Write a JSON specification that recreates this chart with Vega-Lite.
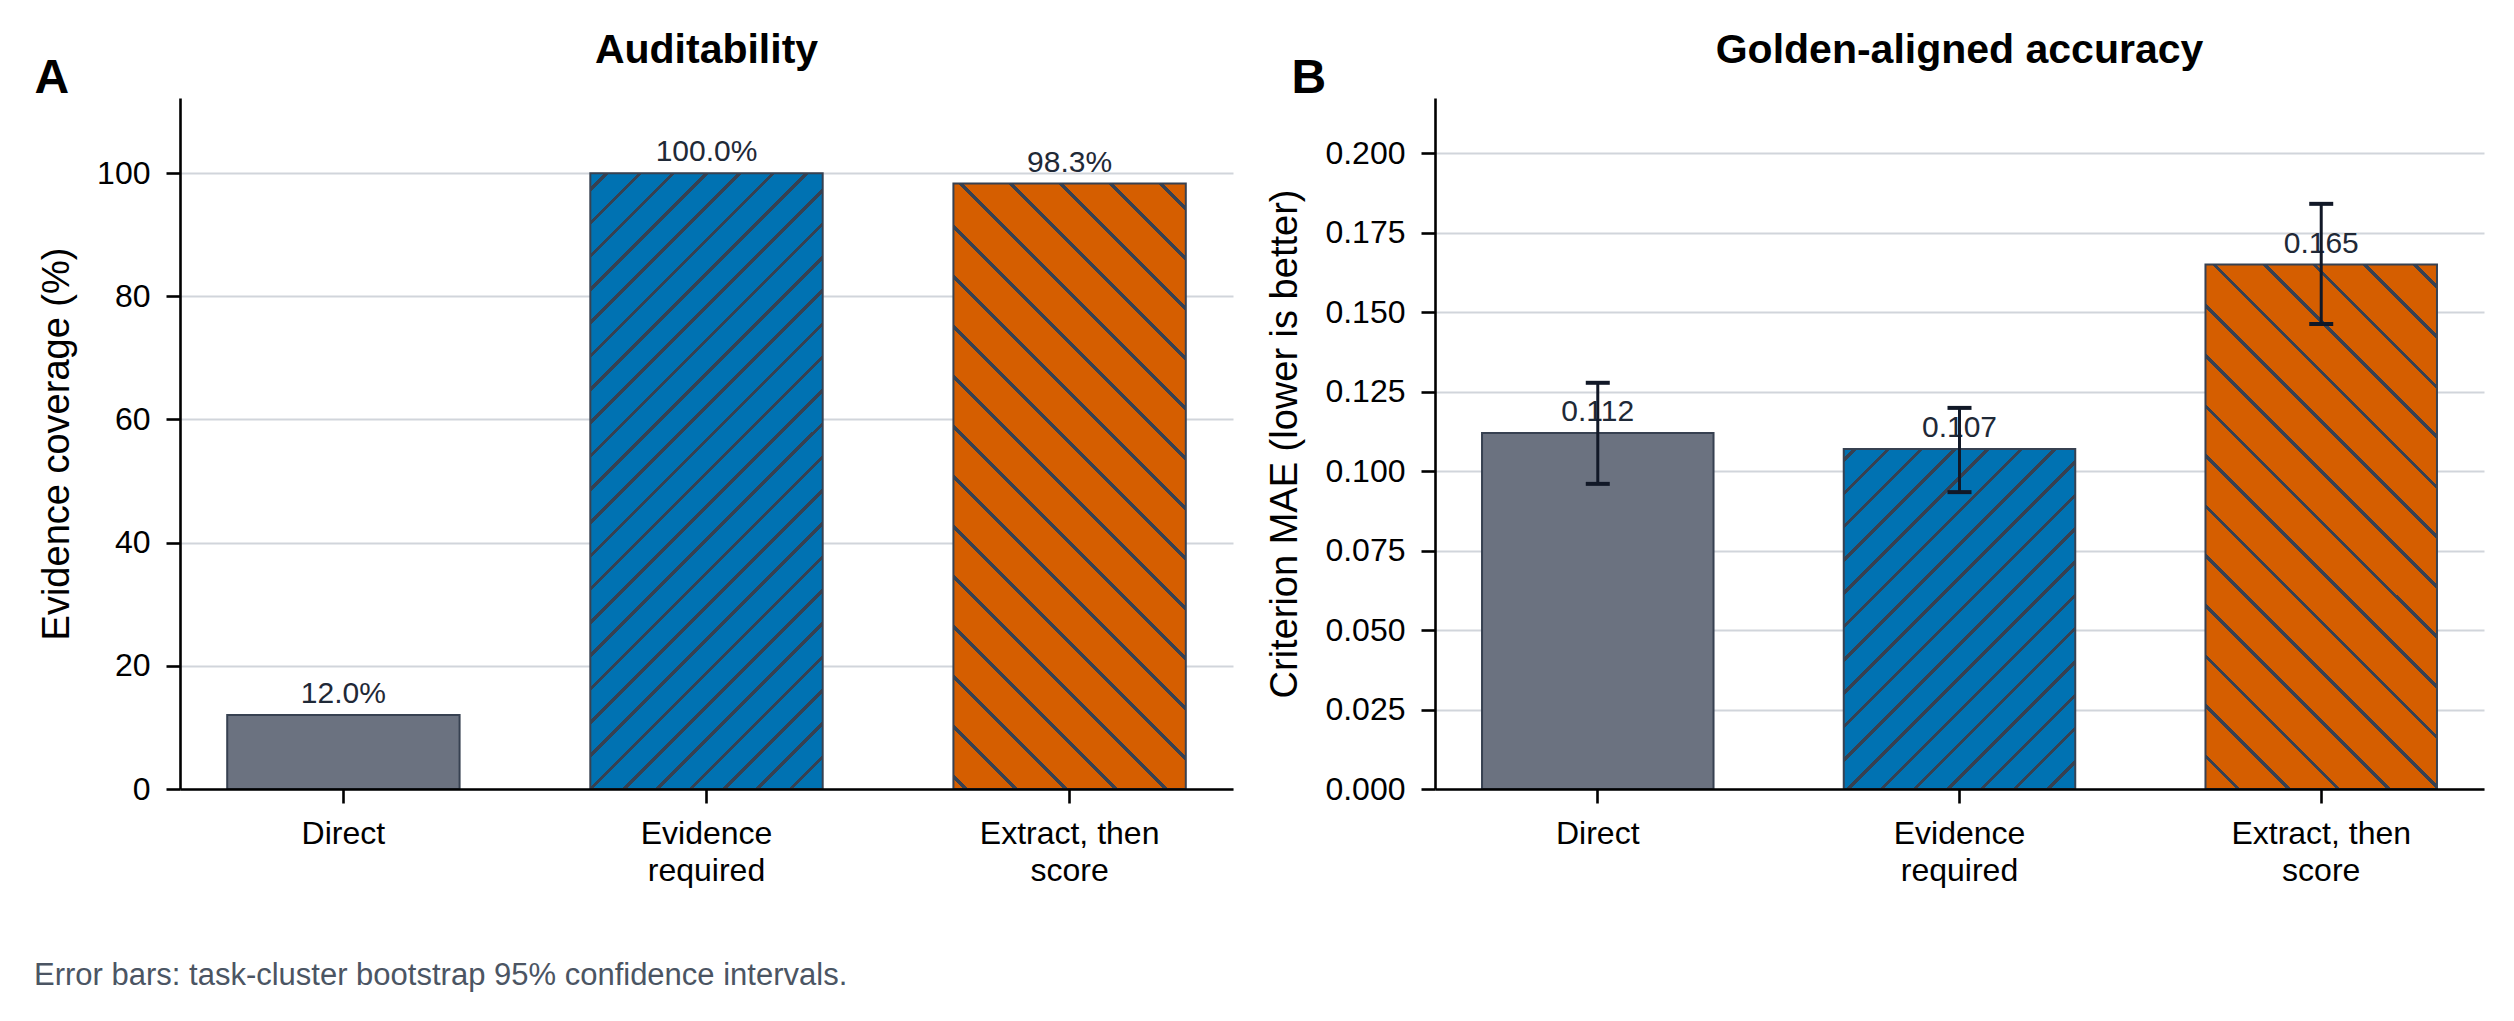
{
  "$schema": "https://vega.github.io/schema/vega-lite/v6.json",
  "background": "white",
  "padding": {"left": 34, "top": 30, "right": 20, "bottom": 10},
  "datasets": {
    "auditability": [
      {"method": "Direct", "coverage": 12.0, "label": "12.0%"},
      {"method": "Evidence required", "coverage": 100.0, "label": "100.0%"},
      {"method": "Extract, then score", "coverage": 98.3, "label": "98.3%"}
    ],
    "accuracy": [
      {"method": "Direct", "mae": 0.112, "lo": 0.096, "hi": 0.1278, "label": "0.112"},
      {"method": "Evidence required", "mae": 0.107, "lo": 0.0934, "hi": 0.1199, "label": "0.107"},
      {"method": "Extract, then score", "mae": 0.165, "lo": 0.1463, "hi": 0.1841, "label": "0.165"}
    ]
  },
  "title": {
    "text": "Error bars: task-cluster bootstrap 95% confidence intervals.",
    "orient": "bottom",
    "anchor": "start",
    "fontSize": 31,
    "fontWeight": "normal",
    "color": "#4b5563",
    "offset": 75
  },
  "spacing": 33,
  "hconcat": [
    {
      "width": 1053,
      "height": 691,
      "data": {"name": "auditability"},
      "title": {"text": "Auditability", "fontSize": 41, "fontWeight": "bold", "color": "black", "anchor": "middle", "frame": "group", "baseline": "alphabetic", "offset": -50},
      "resolve": {"axis": {"x": "independent", "y": "independent"}},
      "layer": [
        {
          "transform": [{"filter": "datum.method == 'Direct'"}],
          "mark": {"type": "bar", "fill": "#6b7280", "stroke": "#374151", "strokeWidth": 2},
          "encoding": {
            "x": {
              "field": "method", "type": "nominal", "sort": null,
              "scale": {"domain": ["Direct", "Evidence required", "Extract, then score"], "paddingInner": 0.36, "paddingOuter": 0.13},
              "axis": {
                "title": null, "labelAngle": 0, "labelFontSize": 32, "labelColor": "black", "labelPadding": 15, "labelLineHeight": 37,
                "labelExpr": "datum.label == 'Evidence required' ? ['Evidence', 'required'] : datum.label == 'Extract, then score' ? ['Extract, then', 'score'] : datum.label",
                "tickSize": 14, "tickWidth": 2.6, "tickColor": "black", "domainColor": "black", "domainWidth": 2.6, "zindex": 1
              }
            },
            "y": {
              "field": "coverage", "type": "quantitative",
              "scale": {"domain": [0, 112.2], "nice": false},
              "axis": {
                "title": "Evidence coverage (%)", "titleFontSize": 38, "titleFontWeight": "normal", "titleColor": "black", "titlePadding": 20,
                "values": [0, 20, 40, 60, 80, 100], "labelFontSize": 32, "labelColor": "black", "labelPadding": 16,
                "tickSize": 14, "tickWidth": 2.6, "tickColor": "black", "domainColor": "black", "domainWidth": 2.6,
                "grid": true, "gridColor": "#d1d5db", "gridWidth": 2
              }
            }
          }
        },
        {
          "transform": [{"filter": "datum.method == 'Evidence required'"}],
          "mark": {
            "type": "bar", "stroke": "#374151", "strokeWidth": 2,
            "fill": {
              "gradient": "linear", "x1": 0, "y1": 0, "x2": 0.4549, "y2": 1.2057,
              "stops": [
                {"offset": 0, "color": "#0072b2"},
                {"offset": 0.0169, "color": "#0072b2"}, {"offset": 0.0169, "color": "#374151"}, {"offset": 0.0223, "color": "#374151"}, {"offset": 0.0223, "color": "#0072b2"},
                {"offset": 0.0562, "color": "#0072b2"}, {"offset": 0.0562, "color": "#374151"}, {"offset": 0.0616, "color": "#374151"}, {"offset": 0.0616, "color": "#0072b2"},
                {"offset": 0.0954, "color": "#0072b2"}, {"offset": 0.0954, "color": "#374151"}, {"offset": 0.1008, "color": "#374151"}, {"offset": 0.1008, "color": "#0072b2"},
                {"offset": 0.1347, "color": "#0072b2"}, {"offset": 0.1347, "color": "#374151"}, {"offset": 0.1401, "color": "#374151"}, {"offset": 0.1401, "color": "#0072b2"},
                {"offset": 0.1739, "color": "#0072b2"}, {"offset": 0.1739, "color": "#374151"}, {"offset": 0.1793, "color": "#374151"}, {"offset": 0.1793, "color": "#0072b2"},
                {"offset": 0.2132, "color": "#0072b2"}, {"offset": 0.2132, "color": "#374151"}, {"offset": 0.2186, "color": "#374151"}, {"offset": 0.2186, "color": "#0072b2"},
                {"offset": 0.2525, "color": "#0072b2"}, {"offset": 0.2525, "color": "#374151"}, {"offset": 0.2579, "color": "#374151"}, {"offset": 0.2579, "color": "#0072b2"},
                {"offset": 0.2917, "color": "#0072b2"}, {"offset": 0.2917, "color": "#374151"}, {"offset": 0.2971, "color": "#374151"}, {"offset": 0.2971, "color": "#0072b2"},
                {"offset": 0.3310, "color": "#0072b2"}, {"offset": 0.3310, "color": "#374151"}, {"offset": 0.3364, "color": "#374151"}, {"offset": 0.3364, "color": "#0072b2"},
                {"offset": 0.3702, "color": "#0072b2"}, {"offset": 0.3702, "color": "#374151"}, {"offset": 0.3756, "color": "#374151"}, {"offset": 0.3756, "color": "#0072b2"},
                {"offset": 0.4095, "color": "#0072b2"}, {"offset": 0.4095, "color": "#374151"}, {"offset": 0.4149, "color": "#374151"}, {"offset": 0.4149, "color": "#0072b2"},
                {"offset": 0.4488, "color": "#0072b2"}, {"offset": 0.4488, "color": "#374151"}, {"offset": 0.4542, "color": "#374151"}, {"offset": 0.4542, "color": "#0072b2"},
                {"offset": 0.4880, "color": "#0072b2"}, {"offset": 0.4880, "color": "#374151"}, {"offset": 0.4934, "color": "#374151"}, {"offset": 0.4934, "color": "#0072b2"},
                {"offset": 0.5273, "color": "#0072b2"}, {"offset": 0.5273, "color": "#374151"}, {"offset": 0.5327, "color": "#374151"}, {"offset": 0.5327, "color": "#0072b2"},
                {"offset": 0.5665, "color": "#0072b2"}, {"offset": 0.5665, "color": "#374151"}, {"offset": 0.5719, "color": "#374151"}, {"offset": 0.5719, "color": "#0072b2"},
                {"offset": 0.6058, "color": "#0072b2"}, {"offset": 0.6058, "color": "#374151"}, {"offset": 0.6112, "color": "#374151"}, {"offset": 0.6112, "color": "#0072b2"},
                {"offset": 0.6451, "color": "#0072b2"}, {"offset": 0.6451, "color": "#374151"}, {"offset": 0.6505, "color": "#374151"}, {"offset": 0.6505, "color": "#0072b2"},
                {"offset": 0.6843, "color": "#0072b2"}, {"offset": 0.6843, "color": "#374151"}, {"offset": 0.6897, "color": "#374151"}, {"offset": 0.6897, "color": "#0072b2"},
                {"offset": 0.7236, "color": "#0072b2"}, {"offset": 0.7236, "color": "#374151"}, {"offset": 0.7290, "color": "#374151"}, {"offset": 0.7290, "color": "#0072b2"},
                {"offset": 0.7628, "color": "#0072b2"}, {"offset": 0.7628, "color": "#374151"}, {"offset": 0.7682, "color": "#374151"}, {"offset": 0.7682, "color": "#0072b2"},
                {"offset": 0.8021, "color": "#0072b2"}, {"offset": 0.8021, "color": "#374151"}, {"offset": 0.8075, "color": "#374151"}, {"offset": 0.8075, "color": "#0072b2"},
                {"offset": 0.8414, "color": "#0072b2"}, {"offset": 0.8414, "color": "#374151"}, {"offset": 0.8468, "color": "#374151"}, {"offset": 0.8468, "color": "#0072b2"},
                {"offset": 0.8806, "color": "#0072b2"}, {"offset": 0.8806, "color": "#374151"}, {"offset": 0.8860, "color": "#374151"}, {"offset": 0.8860, "color": "#0072b2"},
                {"offset": 0.9199, "color": "#0072b2"}, {"offset": 0.9199, "color": "#374151"}, {"offset": 0.9253, "color": "#374151"}, {"offset": 0.9253, "color": "#0072b2"},
                {"offset": 0.9591, "color": "#0072b2"}, {"offset": 0.9591, "color": "#374151"}, {"offset": 0.9645, "color": "#374151"}, {"offset": 0.9645, "color": "#0072b2"},
                {"offset": 1, "color": "#0072b2"}
              ]
            }
          },
          "encoding": {
            "x": {"field": "method", "type": "nominal", "sort": null, "scale": {"domain": ["Direct", "Evidence required", "Extract, then score"], "paddingInner": 0.36, "paddingOuter": 0.13}, "axis": null},
            "y": {"field": "coverage", "type": "quantitative", "scale": {"domain": [0, 112.2], "nice": false}, "axis": null}
          }
        },
        {
          "transform": [{"filter": "datum.method == 'Extract, then score'"}],
          "mark": {
            "type": "bar", "stroke": "#374151", "strokeWidth": 2,
            "fill": {
              "gradient": "linear", "x1": 1, "y1": 0, "x2": 0.5370, "y2": 1.2061,
              "stops": [
                {"offset": 0, "color": "#d55e00"},
                {"offset": 0.0273, "color": "#d55e00"}, {"offset": 0.0273, "color": "#374151"}, {"offset": 0.0327, "color": "#374151"}, {"offset": 0.0327, "color": "#d55e00"},
                {"offset": 0.0870, "color": "#d55e00"}, {"offset": 0.0870, "color": "#374151"}, {"offset": 0.0924, "color": "#374151"}, {"offset": 0.0924, "color": "#d55e00"},
                {"offset": 0.1467, "color": "#d55e00"}, {"offset": 0.1467, "color": "#374151"}, {"offset": 0.1521, "color": "#374151"}, {"offset": 0.1521, "color": "#d55e00"},
                {"offset": 0.2063, "color": "#d55e00"}, {"offset": 0.2063, "color": "#374151"}, {"offset": 0.2117, "color": "#374151"}, {"offset": 0.2117, "color": "#d55e00"},
                {"offset": 0.2660, "color": "#d55e00"}, {"offset": 0.2660, "color": "#374151"}, {"offset": 0.2714, "color": "#374151"}, {"offset": 0.2714, "color": "#d55e00"},
                {"offset": 0.3257, "color": "#d55e00"}, {"offset": 0.3257, "color": "#374151"}, {"offset": 0.3311, "color": "#374151"}, {"offset": 0.3311, "color": "#d55e00"},
                {"offset": 0.3854, "color": "#d55e00"}, {"offset": 0.3854, "color": "#374151"}, {"offset": 0.3908, "color": "#374151"}, {"offset": 0.3908, "color": "#d55e00"},
                {"offset": 0.4451, "color": "#d55e00"}, {"offset": 0.4451, "color": "#374151"}, {"offset": 0.4505, "color": "#374151"}, {"offset": 0.4505, "color": "#d55e00"},
                {"offset": 0.5047, "color": "#d55e00"}, {"offset": 0.5047, "color": "#374151"}, {"offset": 0.5101, "color": "#374151"}, {"offset": 0.5101, "color": "#d55e00"},
                {"offset": 0.5644, "color": "#d55e00"}, {"offset": 0.5644, "color": "#374151"}, {"offset": 0.5698, "color": "#374151"}, {"offset": 0.5698, "color": "#d55e00"},
                {"offset": 0.6241, "color": "#d55e00"}, {"offset": 0.6241, "color": "#374151"}, {"offset": 0.6295, "color": "#374151"}, {"offset": 0.6295, "color": "#d55e00"},
                {"offset": 0.6838, "color": "#d55e00"}, {"offset": 0.6838, "color": "#374151"}, {"offset": 0.6892, "color": "#374151"}, {"offset": 0.6892, "color": "#d55e00"},
                {"offset": 0.7435, "color": "#d55e00"}, {"offset": 0.7435, "color": "#374151"}, {"offset": 0.7489, "color": "#374151"}, {"offset": 0.7489, "color": "#d55e00"},
                {"offset": 0.8031, "color": "#d55e00"}, {"offset": 0.8031, "color": "#374151"}, {"offset": 0.8085, "color": "#374151"}, {"offset": 0.8085, "color": "#d55e00"},
                {"offset": 0.8628, "color": "#d55e00"}, {"offset": 0.8628, "color": "#374151"}, {"offset": 0.8682, "color": "#374151"}, {"offset": 0.8682, "color": "#d55e00"},
                {"offset": 0.9225, "color": "#d55e00"}, {"offset": 0.9225, "color": "#374151"}, {"offset": 0.9279, "color": "#374151"}, {"offset": 0.9279, "color": "#d55e00"},
                {"offset": 0.9822, "color": "#d55e00"}, {"offset": 0.9822, "color": "#374151"}, {"offset": 0.9876, "color": "#374151"}, {"offset": 0.9876, "color": "#d55e00"},
                {"offset": 1, "color": "#d55e00"}
              ]
            }
          },
          "encoding": {
            "x": {"field": "method", "type": "nominal", "sort": null, "scale": {"domain": ["Direct", "Evidence required", "Extract, then score"], "paddingInner": 0.36, "paddingOuter": 0.13}, "axis": null},
            "y": {"field": "coverage", "type": "quantitative", "scale": {"domain": [0, 112.2], "nice": false}, "axis": null}
          }
        },
        {
          "mark": {"type": "text", "baseline": "alphabetic", "dy": -12, "fontSize": 30, "color": "#1f2937"},
          "encoding": {
            "x": {
              "field": "method", "type": "nominal", "sort": null,
              "scale": {"domain": ["Direct", "Evidence required", "Extract, then score"], "paddingInner": 0.36, "paddingOuter": 0.13},
              "axis": {
                "orient": "top", "labels": false, "ticks": false, "domain": false, "grid": false,
                "title": "A", "titleFontSize": 48, "titleFontWeight": "bold", "titleColor": "black", "titleAngle": 0,
                "titleAlign": "left", "titleBaseline": "alphabetic", "titleX": -146, "titleY": -6
              }
            },
            "y": {"field": "coverage", "type": "quantitative", "scale": {"domain": [0, 112.2], "nice": false}, "axis": null},
            "text": {"field": "label"}
          }
        }
      ]
    },
    {
      "width": 1049,
      "height": 691,
      "data": {"name": "accuracy"},
      "title": {"text": "Golden-aligned accuracy", "fontSize": 41, "fontWeight": "bold", "color": "black", "anchor": "middle", "frame": "group", "baseline": "alphabetic", "offset": -50},
      "resolve": {"axis": {"x": "independent", "y": "independent"}},
      "layer": [
        {
          "transform": [{"filter": "datum.method == 'Direct'"}],
          "mark": {"type": "bar", "fill": "#6b7280", "stroke": "#374151", "strokeWidth": 2},
          "encoding": {
            "x": {
              "field": "method", "type": "nominal", "sort": null,
              "scale": {"domain": ["Direct", "Evidence required", "Extract, then score"], "paddingInner": 0.36, "paddingOuter": 0.13},
              "axis": {
                "title": null, "labelAngle": 0, "labelFontSize": 32, "labelColor": "black", "labelPadding": 15, "labelLineHeight": 37,
                "labelExpr": "datum.label == 'Evidence required' ? ['Evidence', 'required'] : datum.label == 'Extract, then score' ? ['Extract, then', 'score'] : datum.label",
                "tickSize": 14, "tickWidth": 2.6, "tickColor": "black", "domainColor": "black", "domainWidth": 2.6, "zindex": 1
              }
            },
            "y": {
              "field": "mae", "type": "quantitative",
              "scale": {"domain": [0, 0.2174], "nice": false},
              "axis": {
                "title": "Criterion MAE (lower is better)", "titleFontSize": 38, "titleFontWeight": "normal", "titleColor": "black", "titlePadding": 20,
                "values": [0, 0.025, 0.05, 0.075, 0.1, 0.125, 0.15, 0.175, 0.2], "format": ".3f",
                "labelFontSize": 32, "labelColor": "black", "labelPadding": 16,
                "tickSize": 14, "tickWidth": 2.6, "tickColor": "black", "domainColor": "black", "domainWidth": 2.6,
                "grid": true, "gridColor": "#d1d5db", "gridWidth": 2
              }
            }
          }
        },
        {
          "transform": [{"filter": "datum.method == 'Evidence required'"}],
          "mark": {
            "type": "bar", "stroke": "#374151", "strokeWidth": 2,
            "fill": {
              "gradient": "linear", "x1": 0, "y1": 0, "x2": 0.7818, "y2": 1.1486,
              "stops": [
                {"offset": 0, "color": "#0072b2"},
                {"offset": 0.0160, "color": "#0072b2"}, {"offset": 0.0160, "color": "#374151"}, {"offset": 0.0240, "color": "#374151"}, {"offset": 0.0240, "color": "#0072b2"},
                {"offset": 0.0743, "color": "#0072b2"}, {"offset": 0.0743, "color": "#374151"}, {"offset": 0.0823, "color": "#374151"}, {"offset": 0.0823, "color": "#0072b2"},
                {"offset": 0.1325, "color": "#0072b2"}, {"offset": 0.1325, "color": "#374151"}, {"offset": 0.1405, "color": "#374151"}, {"offset": 0.1405, "color": "#0072b2"},
                {"offset": 0.1908, "color": "#0072b2"}, {"offset": 0.1908, "color": "#374151"}, {"offset": 0.1988, "color": "#374151"}, {"offset": 0.1988, "color": "#0072b2"},
                {"offset": 0.2490, "color": "#0072b2"}, {"offset": 0.2490, "color": "#374151"}, {"offset": 0.2570, "color": "#374151"}, {"offset": 0.2570, "color": "#0072b2"},
                {"offset": 0.3073, "color": "#0072b2"}, {"offset": 0.3073, "color": "#374151"}, {"offset": 0.3153, "color": "#374151"}, {"offset": 0.3153, "color": "#0072b2"},
                {"offset": 0.3656, "color": "#0072b2"}, {"offset": 0.3656, "color": "#374151"}, {"offset": 0.3736, "color": "#374151"}, {"offset": 0.3736, "color": "#0072b2"},
                {"offset": 0.4238, "color": "#0072b2"}, {"offset": 0.4238, "color": "#374151"}, {"offset": 0.4318, "color": "#374151"}, {"offset": 0.4318, "color": "#0072b2"},
                {"offset": 0.4821, "color": "#0072b2"}, {"offset": 0.4821, "color": "#374151"}, {"offset": 0.4901, "color": "#374151"}, {"offset": 0.4901, "color": "#0072b2"},
                {"offset": 0.5403, "color": "#0072b2"}, {"offset": 0.5403, "color": "#374151"}, {"offset": 0.5483, "color": "#374151"}, {"offset": 0.5483, "color": "#0072b2"},
                {"offset": 0.5986, "color": "#0072b2"}, {"offset": 0.5986, "color": "#374151"}, {"offset": 0.6066, "color": "#374151"}, {"offset": 0.6066, "color": "#0072b2"},
                {"offset": 0.6569, "color": "#0072b2"}, {"offset": 0.6569, "color": "#374151"}, {"offset": 0.6649, "color": "#374151"}, {"offset": 0.6649, "color": "#0072b2"},
                {"offset": 0.7151, "color": "#0072b2"}, {"offset": 0.7151, "color": "#374151"}, {"offset": 0.7231, "color": "#374151"}, {"offset": 0.7231, "color": "#0072b2"},
                {"offset": 0.7734, "color": "#0072b2"}, {"offset": 0.7734, "color": "#374151"}, {"offset": 0.7814, "color": "#374151"}, {"offset": 0.7814, "color": "#0072b2"},
                {"offset": 0.8316, "color": "#0072b2"}, {"offset": 0.8316, "color": "#374151"}, {"offset": 0.8396, "color": "#374151"}, {"offset": 0.8396, "color": "#0072b2"},
                {"offset": 0.8899, "color": "#0072b2"}, {"offset": 0.8899, "color": "#374151"}, {"offset": 0.8979, "color": "#374151"}, {"offset": 0.8979, "color": "#0072b2"},
                {"offset": 0.9482, "color": "#0072b2"}, {"offset": 0.9482, "color": "#374151"}, {"offset": 0.9562, "color": "#374151"}, {"offset": 0.9562, "color": "#0072b2"},
                {"offset": 1, "color": "#0072b2"}
              ]
            }
          },
          "encoding": {
            "x": {"field": "method", "type": "nominal", "sort": null, "scale": {"domain": ["Direct", "Evidence required", "Extract, then score"], "paddingInner": 0.36, "paddingOuter": 0.13}, "axis": null},
            "y": {"field": "mae", "type": "quantitative", "scale": {"domain": [0, 0.2174], "nice": false}, "axis": null}
          }
        },
        {
          "transform": [{"filter": "datum.method == 'Extract, then score'"}],
          "mark": {
            "type": "bar", "stroke": "#374151", "strokeWidth": 2,
            "fill": {
              "gradient": "linear", "x1": 1, "y1": 0, "x2": 0.4675, "y2": 1.2064,
              "stops": [
                {"offset": 0, "color": "#d55e00"},
                {"offset": 0.0270, "color": "#d55e00"}, {"offset": 0.0270, "color": "#374151"}, {"offset": 0.0330, "color": "#374151"}, {"offset": 0.0330, "color": "#d55e00"},
                {"offset": 0.0931, "color": "#d55e00"}, {"offset": 0.0931, "color": "#374151"}, {"offset": 0.0991, "color": "#374151"}, {"offset": 0.0991, "color": "#d55e00"},
                {"offset": 0.1593, "color": "#d55e00"}, {"offset": 0.1593, "color": "#374151"}, {"offset": 0.1653, "color": "#374151"}, {"offset": 0.1653, "color": "#d55e00"},
                {"offset": 0.2254, "color": "#d55e00"}, {"offset": 0.2254, "color": "#374151"}, {"offset": 0.2314, "color": "#374151"}, {"offset": 0.2314, "color": "#d55e00"},
                {"offset": 0.2916, "color": "#d55e00"}, {"offset": 0.2916, "color": "#374151"}, {"offset": 0.2976, "color": "#374151"}, {"offset": 0.2976, "color": "#d55e00"},
                {"offset": 0.3577, "color": "#d55e00"}, {"offset": 0.3577, "color": "#374151"}, {"offset": 0.3637, "color": "#374151"}, {"offset": 0.3637, "color": "#d55e00"},
                {"offset": 0.4238, "color": "#d55e00"}, {"offset": 0.4238, "color": "#374151"}, {"offset": 0.4298, "color": "#374151"}, {"offset": 0.4298, "color": "#d55e00"},
                {"offset": 0.4900, "color": "#d55e00"}, {"offset": 0.4900, "color": "#374151"}, {"offset": 0.4960, "color": "#374151"}, {"offset": 0.4960, "color": "#d55e00"},
                {"offset": 0.5561, "color": "#d55e00"}, {"offset": 0.5561, "color": "#374151"}, {"offset": 0.5621, "color": "#374151"}, {"offset": 0.5621, "color": "#d55e00"},
                {"offset": 0.6223, "color": "#d55e00"}, {"offset": 0.6223, "color": "#374151"}, {"offset": 0.6283, "color": "#374151"}, {"offset": 0.6283, "color": "#d55e00"},
                {"offset": 0.6884, "color": "#d55e00"}, {"offset": 0.6884, "color": "#374151"}, {"offset": 0.6944, "color": "#374151"}, {"offset": 0.6944, "color": "#d55e00"},
                {"offset": 0.7545, "color": "#d55e00"}, {"offset": 0.7545, "color": "#374151"}, {"offset": 0.7605, "color": "#374151"}, {"offset": 0.7605, "color": "#d55e00"},
                {"offset": 0.8207, "color": "#d55e00"}, {"offset": 0.8207, "color": "#374151"}, {"offset": 0.8267, "color": "#374151"}, {"offset": 0.8267, "color": "#d55e00"},
                {"offset": 0.8868, "color": "#d55e00"}, {"offset": 0.8868, "color": "#374151"}, {"offset": 0.8928, "color": "#374151"}, {"offset": 0.8928, "color": "#d55e00"},
                {"offset": 0.9530, "color": "#d55e00"}, {"offset": 0.9530, "color": "#374151"}, {"offset": 0.9590, "color": "#374151"}, {"offset": 0.9590, "color": "#d55e00"},
                {"offset": 1, "color": "#d55e00"}
              ]
            }
          },
          "encoding": {
            "x": {"field": "method", "type": "nominal", "sort": null, "scale": {"domain": ["Direct", "Evidence required", "Extract, then score"], "paddingInner": 0.36, "paddingOuter": 0.13}, "axis": null},
            "y": {"field": "mae", "type": "quantitative", "scale": {"domain": [0, 0.2174], "nice": false}, "axis": null}
          }
        },
        {
          "mark": {"type": "text", "baseline": "alphabetic", "dy": -12, "fontSize": 30, "color": "#1f2937"},
          "encoding": {
            "x": {
              "field": "method", "type": "nominal", "sort": null,
              "scale": {"domain": ["Direct", "Evidence required", "Extract, then score"], "paddingInner": 0.36, "paddingOuter": 0.13},
              "axis": {
                "orient": "top", "labels": false, "ticks": false, "domain": false, "grid": false,
                "title": "B", "titleFontSize": 48, "titleFontWeight": "bold", "titleColor": "black", "titleAngle": 0,
                "titleAlign": "left", "titleBaseline": "alphabetic", "titleX": -144, "titleY": -6
              }
            },
            "y": {"field": "mae", "type": "quantitative", "scale": {"domain": [0, 0.2174], "nice": false}, "axis": null},
            "text": {"field": "label"}
          }
        },
        {
          "mark": {"type": "rule", "strokeWidth": 3, "color": "#111827"},
          "encoding": {
            "x": {"field": "method", "type": "nominal", "sort": null, "scale": {"domain": ["Direct", "Evidence required", "Extract, then score"], "paddingInner": 0.36, "paddingOuter": 0.13}, "axis": null},
            "y": {"field": "lo", "type": "quantitative", "scale": {"domain": [0, 0.2174], "nice": false}, "axis": null},
            "y2": {"field": "hi"}
          }
        },
        {
          "mark": {"type": "tick", "thickness": 4, "size": 24, "color": "#111827", "opacity": 1},
          "encoding": {
            "x": {"field": "method", "type": "nominal", "sort": null, "scale": {"domain": ["Direct", "Evidence required", "Extract, then score"], "paddingInner": 0.36, "paddingOuter": 0.13}, "axis": null},
            "y": {"field": "lo", "type": "quantitative", "scale": {"domain": [0, 0.2174], "nice": false}, "axis": null}
          }
        },
        {
          "mark": {"type": "tick", "thickness": 4, "size": 24, "color": "#111827", "opacity": 1},
          "encoding": {
            "x": {"field": "method", "type": "nominal", "sort": null, "scale": {"domain": ["Direct", "Evidence required", "Extract, then score"], "paddingInner": 0.36, "paddingOuter": 0.13}, "axis": null},
            "y": {"field": "hi", "type": "quantitative", "scale": {"domain": [0, 0.2174], "nice": false}, "axis": null}
          }
        }
      ]
    }
  ],
  "config": {
    "font": "Liberation Sans",
    "view": {"stroke": null}
  }
}
